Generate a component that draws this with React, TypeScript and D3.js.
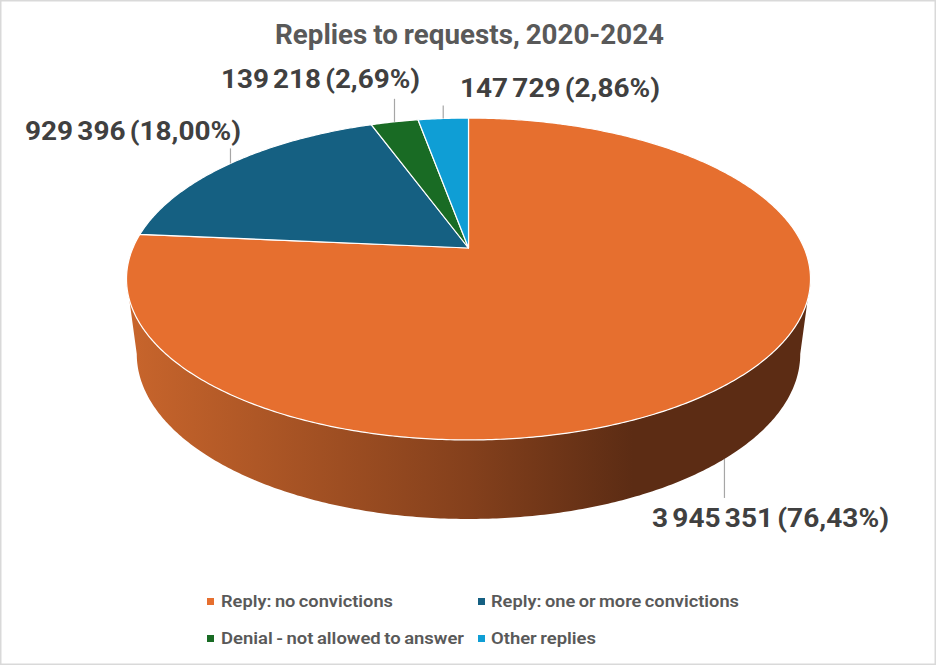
import React from "react";
import * as d3 from "d3";

const categories = ["Reply: no convictions", "Reply: one or more convictions", "Denial - not allowed to answer", "Other replies"];
const values = [3945351, 929396, 139218, 147729];
const labels = ["3 945 351 (76,43%)", "929 396 (18,00%)", "139 218 (2,69%)", "147 729 (2,86%)"];
const colors = ["#E66F2F", "#156082", "#196B24", "#0F9ED5"];
const title = "Replies to requests, 2020-2024";

const W = 936, H = 665;
const cx = 468.5, apexY = 248, p = 0.1925, hy = 155, wx = 335.6;
const wallScaleX = 0.97, wallScaleY = 1.025, topCy = 279, wallCy = 354;

const project = (a: number): [number, number] => {
  const u = Math.sin(a), v = Math.cos(a), d = 1 + p * v;
  return [cx + (wx * u) / d, apexY - (hy * v) / d];
};
const projectWall = (a: number): [number, number] => {
  const [x, y] = project(a);
  return [cx + (x - cx) * wallScaleX, wallCy + (y - topCy) * wallScaleY];
};
const line = d3.line<[number, number]>().x((d) => d[0]).y((d) => d[1]);
const arcPts = (a0: number, a1: number, f = project) => {
  const n = Math.max(2, Math.ceil(Math.abs(a1 - a0) / 0.01));
  return d3.range(n + 1).map((i) => f(a0 + ((a1 - a0) * i) / n));
};

const arcs = d3.pie<number>().sort(null).startAngle(0).endAngle(2 * Math.PI)(values);

const aR = Math.acos(-p), aL = 2 * Math.PI - aR;
const wallPath = line([...arcPts(aR, aL), ...arcPts(aL, aR, projectWall)]) + "Z";

const labelLayout = [
  { x: 652, y: 527, w: 237, leaderFrom: "wall", len: 39 },
  { x: 25, y: 140, w: 216, leaderFrom: "top", len: 15 },
  { x: 221, y: 88, w: 199, leaderFrom: "top", len: 23 },
  { x: 460, y: 97, w: 200, leaderFrom: "top", len: 13 },
];
const legendLayout = [
  { x: 207, y: 598, tx: 221, tw: 172 },
  { x: 478, y: 598, tx: 491, tw: 248 },
  { x: 207, y: 635, tx: 221, tw: 243 },
  { x: 478, y: 635, tx: 491, tw: 105 },
];
const FONT = "Roboto, sans-serif";

export default function App() {
  return (
    <svg width={W} height={H} viewBox={`0 0 ${W} ${H}`} style={{ position: "fixed", left: 0, top: 0, background: "#fff" }}>
      <defs>
        <linearGradient id="wall" gradientUnits="userSpaceOnUse" x1={128} x2={810} y1={0} y2={0}>
          <stop offset="0" stopColor="#C8652C" />
          <stop offset="0.5" stopColor="#84401C" />
          <stop offset="0.74" stopColor="#5C2C14" />
          <stop offset="1" stopColor="#5C2C14" />
        </linearGradient>
      </defs>
      <rect x={0.75} y={0.75} width={W - 1.5} height={H - 1.5} fill="#fff" stroke="#D9D9D9" strokeWidth={1.5} />
      <text x={275} y={44} fontFamily={FONT} fontWeight={700} fontSize={28} wordSpacing={-1} fill="#595959" textLength={389} lengthAdjust="spacingAndGlyphs">{title}</text>
      <path d={wallPath} fill="url(#wall)" />
      {arcs.map((s, i) => (
        <path
          key={categories[i]}
          d={line([[cx, apexY], ...arcPts(s.startAngle, s.endAngle)])! + "Z"}
          fill={colors[i]}
          stroke="#fff"
          strokeWidth={1.2}
          strokeLinejoin="round"
        />
      ))}
      {arcs.map((s, i) => {
        const mid = (s.startAngle + s.endAngle) / 2;
        const L = labelLayout[i];
        const [x, y] = L.leaderFrom === "wall" ? projectWall(mid) : project(mid);
        const y2 = L.leaderFrom === "wall" ? y + L.len : y - L.len;
        return (
          <g key={labels[i]}>
            <line x1={x} x2={x} y1={y} y2={y2} stroke="#A6A6A6" strokeWidth={1.2} />
            <text x={L.x} y={L.y} fontFamily={FONT} fontWeight={700} fontSize={25.5} wordSpacing={-2.5} fill="#404040" textLength={L.w} lengthAdjust="spacingAndGlyphs">{labels[i]}</text>
          </g>
        );
      })}
      {categories.map((c, i) => {
        const L = legendLayout[i];
        return (
          <g key={c}>
            <rect x={L.x} y={L.y} width={7} height={7} fill={colors[i]} />
            <text x={L.tx} y={L.y + 9} fontFamily={FONT} fontWeight={600} fontSize={17} wordSpacing={-1} fill="#595959" textLength={L.tw} lengthAdjust="spacingAndGlyphs">{c}</text>
          </g>
        );
      })}
    </svg>
  );
}
